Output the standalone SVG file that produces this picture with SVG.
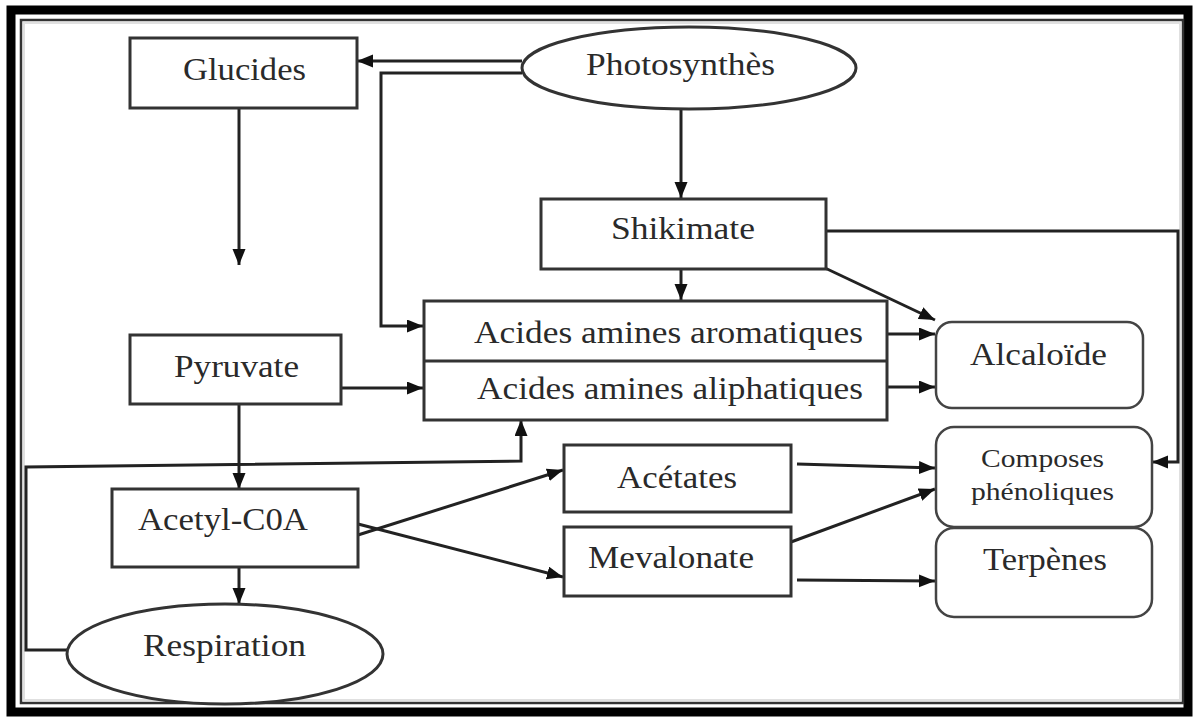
<svg xmlns="http://www.w3.org/2000/svg" width="1196" height="718" viewBox="0 0 1196 718">
<style>
.box{fill:#fff;stroke:#333;stroke-width:3}
.rbox{fill:#fff;stroke:#444;stroke-width:2.5}
.t{font-family:"Liberation Serif","Times New Roman",serif;font-size:31px;fill:#2a2a2a}
.ts{font-family:"Liberation Serif","Times New Roman",serif;font-size:25px;fill:#2a2a2a}
.c{fill:none;stroke:#222;stroke-width:3}
.a{marker-end:url(#ah)}
</style>
<defs>
<marker id="ah" markerUnits="userSpaceOnUse" markerWidth="18" markerHeight="14" refX="16" refY="6.5" orient="auto">
<path d="M0,0 L16,6.5 L0,13 z" fill="#111"/>
</marker>
</defs>
<rect x="0" y="0" width="1196" height="718" fill="#fff"/>
<g id="frame">
<rect x="11" y="10" width="1177" height="702" fill="none" stroke="#000" stroke-width="9"/>
<rect x="21" y="20" width="1162" height="683" fill="none" stroke="#333" stroke-width="2.5"/>
<rect x="24" y="23" width="1156" height="677" fill="none" stroke="#ccc" stroke-width="2" opacity="0.6"/>
</g>
<g id="connectors">
<path class="c a" d="M522,61 L357,61"/>
<path class="c a" d="M522,73 L381,73 L381,326 L423,326"/>
<path class="c a" d="M681,110 L681,198"/>
<path class="c a" d="M239,108 L239,265"/>
<path class="c a" d="M681,269 L681,300"/>
<path class="c a" d="M825,268 L935,320"/>
<path class="c a" d="M826,231 L1178,231 L1178,462 L1152,462"/>
<path class="c a" d="M887,334 L935,334"/>
<path class="c a" d="M887,387 L935,387"/>
<path class="c a" d="M341,388 L423,388"/>
<path class="c a" d="M239,404 L239,489"/>
<path class="c a" d="M67,650 L26,650 L26,467 L521,461 L521,420"/>
<path class="c a" d="M239,567 L239,604"/>
<path class="c a" d="M358,535 L563,470"/>
<path class="c a" d="M358,524 L563,577"/>
<path class="c a" d="M797,464 L935,468"/>
<path class="c a" d="M791,542 L935,489"/>
<path class="c a" d="M797,580 L935,581"/>
</g>
<g id="glucides">
<rect class="box" x="130" y="38" width="227" height="70"/>
<text class="t" x="183" y="80" textLength="123" lengthAdjust="spacingAndGlyphs">Glucides</text>
</g>
<g id="photosynthese">
<ellipse class="box" cx="689" cy="68" rx="167" ry="41"/>
<text class="t" x="586" y="75" textLength="189" lengthAdjust="spacingAndGlyphs">Photosynthès</text>
</g>
<g id="shikimate">
<rect class="box" x="541" y="199" width="285" height="70"/>
<text class="t" x="611" y="239" textLength="144" lengthAdjust="spacingAndGlyphs">Shikimate</text>
</g>
<g id="acides">
<rect class="box" x="424" y="301" width="463" height="119"/>
<line x1="424" y1="361" x2="887" y2="361" stroke="#333" stroke-width="3"/>
<text class="t" x="474" y="343" textLength="389" lengthAdjust="spacingAndGlyphs">Acides amines aromatiques</text>
<text class="t" x="477" y="399" textLength="386" lengthAdjust="spacingAndGlyphs">Acides amines aliphatiques</text>
</g>
<g id="alcaloide">
<rect class="rbox" x="936" y="322" width="207" height="86" rx="16"/>
<text class="t" x="970" y="365" textLength="137" lengthAdjust="spacingAndGlyphs">Alcaloïde</text>
</g>
<g id="pyruvate">
<rect class="box" x="130" y="335" width="211" height="69"/>
<text class="t" x="174" y="377" textLength="125" lengthAdjust="spacingAndGlyphs">Pyruvate</text>
</g>
<g id="acetylcoa">
<rect class="box" x="112" y="489" width="246" height="78"/>
<text class="t" x="138" y="530" textLength="170" lengthAdjust="spacingAndGlyphs">Acetyl-C0A</text>
</g>
<g id="respiration">
<ellipse class="box" cx="225" cy="654" rx="158" ry="50"/>
<text class="t" x="143" y="656" textLength="163" lengthAdjust="spacingAndGlyphs">Respiration</text>
</g>
<g id="acetates">
<rect class="box" x="564" y="445" width="227" height="67"/>
<text class="t" x="617" y="488" textLength="120" lengthAdjust="spacingAndGlyphs">Acétates</text>
</g>
<g id="mevalonate">
<rect class="box" x="564" y="527" width="227" height="69"/>
<text class="t" x="588" y="568" textLength="166" lengthAdjust="spacingAndGlyphs">Mevalonate</text>
</g>
<g id="composes">
<rect class="rbox" x="936" y="427" width="216" height="100" rx="18"/>
<text class="ts" x="981" y="467" textLength="123" lengthAdjust="spacingAndGlyphs">Composes</text>
<text class="ts" x="971" y="500" textLength="143" lengthAdjust="spacingAndGlyphs">phénoliques</text>
</g>
<g id="terpenes">
<rect class="rbox" x="936" y="528" width="216" height="89" rx="18"/>
<text class="t" x="983" y="570" textLength="124" lengthAdjust="spacingAndGlyphs">Terpènes</text>
</g>
</svg>
